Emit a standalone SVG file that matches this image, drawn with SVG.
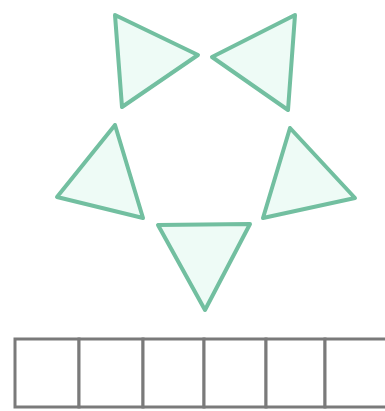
<svg xmlns="http://www.w3.org/2000/svg" width="385" height="411" viewBox="0 0 385 411">
<style>
.tri{fill:#eefbf6;stroke:#72bfa0;stroke-width:4;stroke-linejoin:round}
.box{fill:#ffffff;stroke:#7a7a7a;stroke-width:3}
</style>
<rect width="385" height="411" fill="#ffffff"/>
<g id="tri-top-left"><polygon class="tri" points="115,15 198,55 122,107"/></g>
<g id="tri-top-right"><polygon class="tri" points="295,15 212,57 288,110"/></g>
<g id="tri-left"><polygon class="tri" points="115,125 57,197 143,218"/></g>
<g id="tri-right"><polygon class="tri" points="290,128 355,198 263,218"/></g>
<g id="tri-bottom"><polygon class="tri" points="158,225 250,224 205,310"/></g>
<g id="boxes">
<rect class="box" x="15" y="339" width="64" height="68"/>
<rect class="box" x="79" y="339" width="64" height="68"/>
<rect class="box" x="143" y="339" width="61" height="68"/>
<rect class="box" x="204" y="339" width="62" height="68"/>
<rect class="box" x="266" y="339" width="59" height="68"/>
<rect class="box" x="325" y="339" width="62" height="68"/>
</g>
</svg>
